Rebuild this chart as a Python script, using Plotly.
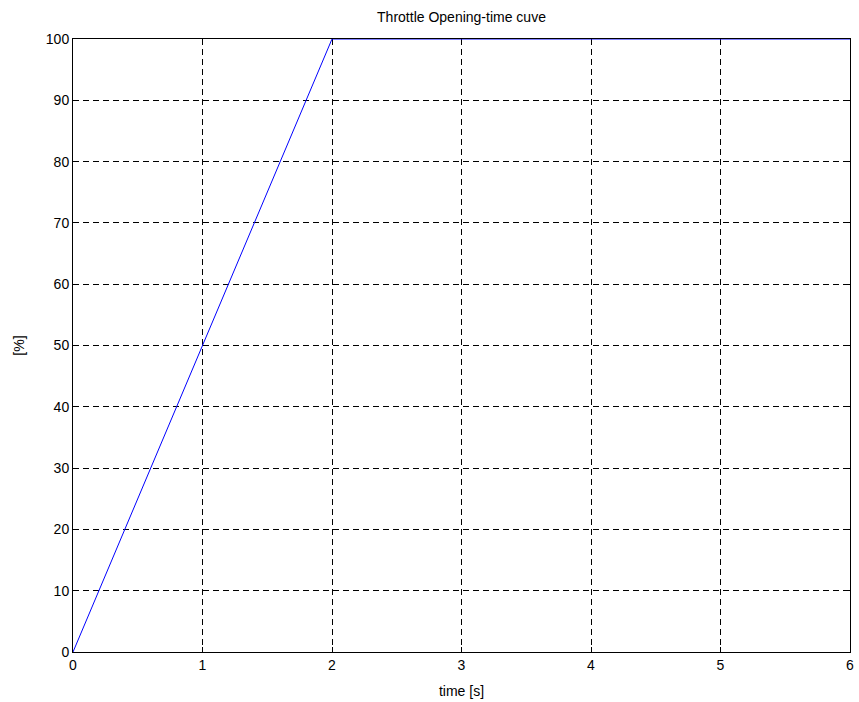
import plotly.graph_objects as go

# Data
time_s = [0, 2, 6]
throttle_pct = [0, 100, 100]
x_ticks = [0, 1, 2, 3, 4, 5, 6]
y_ticks = [0, 10, 20, 30, 40, 50, 60, 70, 80, 90, 100]

FONT = "Liberation Sans, Arial, Helvetica, sans-serif"

W, H = 859, 702

fig = go.Figure()
fig.add_trace(go.Scatter(
    x=time_s, y=throttle_pct, mode="lines",
    line=dict(color="rgb(0,0,255)", width=1),
    cliponaxis=False, showlegend=False, hoverinfo="skip",
))

axis_common = dict(
    showline=True, linecolor="black", linewidth=1, mirror="ticks",
    ticks="inside", ticklen=5, tickcolor="black", tickwidth=1,
    showgrid=True, gridcolor="black", gridwidth=1, griddash="6px,4px",
    zeroline=False, layer="below traces", ticklabeloverflow="allow",
    tickfont=dict(family=FONT, size=14, color="black"),
)

fig.update_xaxes(
    range=[0, 6], tickvals=x_ticks, ticktext=[str(v) for v in x_ticks],
    title=dict(text="time [s]", font=dict(family=FONT, size=14, color="black"), standoff=14),
    **axis_common,
)
fig.update_yaxes(
    range=[0, 100], tickvals=y_ticks, ticktext=[str(v) for v in y_ticks],
    title=dict(text="[%]", font=dict(family=FONT, size=14, color="black"), standoff=17),
    **axis_common,
)

fig.update_layout(
    width=W, height=H,
    margin=dict(l=73, r=5, t=39, b=47),
    plot_bgcolor="white", paper_bgcolor="white",
    title=dict(text="Throttle Opening-time cuve", x=0.5, xref="paper",
               y=1 - 17 / H, yanchor="middle",
               font=dict(family=FONT, size=14, color="black")),
    font=dict(family=FONT, size=14, color="black"),
)

fig.write_html("out.html", config={"displayModeBar": False},
               post_script="document.body.style.margin='0px';")
